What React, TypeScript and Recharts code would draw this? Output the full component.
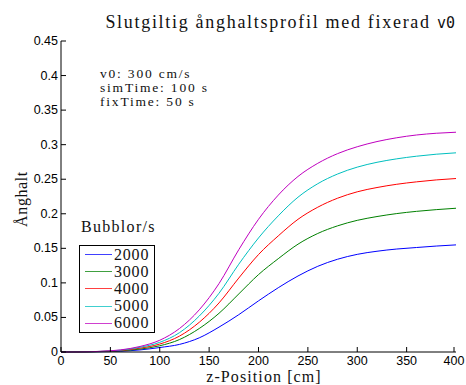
import { LineChart, Line, XAxis, YAxis, Legend } from 'recharts';

// z positions along the channel [cm]
const zPositions = [0, 20, 40, 60, 80, 100, 120, 140, 160, 180, 200, 220, 240, 260, 280, 300, 320, 340, 360, 380, 400];

// steam fraction per bubble rate (bubbles/s)
const rate2000 = [0, 0.0001, 0.0004, 0.0011, 0.003, 0.0065, 0.011, 0.0205, 0.036, 0.054, 0.074, 0.093, 0.110, 0.124, 0.1342, 0.1413, 0.1458, 0.149, 0.1512, 0.1533, 0.155];
const rate3000 = [0, 0.0001, 0.0006, 0.0017, 0.0042, 0.009, 0.018, 0.034, 0.056, 0.084, 0.112, 0.135, 0.156, 0.1715, 0.1825, 0.1905, 0.196, 0.2003, 0.2035, 0.206, 0.208];
const rate4000 = [0, 0.0001, 0.0008, 0.0022, 0.0055, 0.0115, 0.023, 0.043, 0.071, 0.107, 0.141, 0.168, 0.192, 0.2095, 0.2225, 0.2318, 0.238, 0.2427, 0.2462, 0.249, 0.251];
const rate5000 = [0, 0.0001, 0.0009, 0.0026, 0.0068, 0.014, 0.028, 0.052, 0.085, 0.127, 0.165, 0.197, 0.224, 0.2435, 0.2575, 0.2675, 0.2745, 0.2795, 0.2833, 0.2862, 0.2882];
const rate6000 = [0, 0.0001, 0.001, 0.003, 0.008, 0.017, 0.034, 0.061, 0.099, 0.148, 0.192, 0.227, 0.254, 0.273, 0.287, 0.297, 0.3045, 0.31, 0.314, 0.3165, 0.318];

const xTicks = [0, 50, 100, 150, 200, 250, 300, 350, 400];
const yTicks = [0, 0.05, 0.1, 0.15, 0.2, 0.25, 0.3, 0.35, 0.4, 0.45];
const yTickLabels = ['0', '0.05', '0.1', '0.15', '0.2', '0.25', '0.3', '0.35', '0.4', '0.45'];

const seriesNames = ['2000', '3000', '4000', '5000', '6000'];
const seriesColors = ['#0000ff', '#008000', '#ff0000', '#00bfbf', '#bf00bf'];
const seriesValues = [rate2000, rate3000, rate4000, rate5000, rate6000];

const rows = zPositions.map((z, i) => {
  const row: Record<string, number> = { z };
  seriesNames.forEach((name, s) => { row[name] = seriesValues[s][i]; });
  return row;
});

const sans = '"Liberation Sans", Arial, sans-serif';
const serif = '"Liberation Serif", "Times New Roman", serif';
const TICK = 5;

const BottomTick = ({ x, y, payload }: any) => (
  <g>
    <line x1={x} y1={y} x2={x} y2={y - TICK} stroke="#000" />
    <text x={x} y={y + 13} textAnchor="middle" fontSize={12.5} fontFamily={sans} fill="#000">{payload.value}</text>
  </g>
);

const TopTick = ({ x, y }: any) => <line x1={x} y1={y} x2={x} y2={y + TICK} stroke="#000" />;

const LeftTick = ({ x, y, payload }: any) => (
  <g>
    <line x1={x} y1={y} x2={x + TICK} y2={y} stroke="#000" />
    <text x={x - 3} y={y + 4} textAnchor="end" fontSize={12.5} fontFamily={sans} fill="#000">
      {yTickLabels[yTicks.indexOf(payload.value)] ?? payload.value}
    </text>
  </g>
);

const RightTick = ({ x, y }: any) => <line x1={x} y1={y} x2={x - TICK} y2={y} stroke="#000" />;

const LegendBox = ({ payload }: any) => (
  <div style={{ fontFamily: serif, color: '#111' }}>
    <div style={{ fontSize: 16, lineHeight: '20px', height: 20, marginBottom: 8, marginLeft: 2, letterSpacing: 1.3 }}>Bubblor/s</div>
    <div style={{ border: '1.5px solid #000', background: '#fff', width: 76, boxSizing: 'border-box', padding: '0 0 0 5px' }}>
      {(payload || []).map((p: any) => (
        <div key={p.value} style={{ display: 'flex', alignItems: 'center', height: 17.2 }}>
          <span style={{ display: 'inline-block', width: 27, height: 0, borderTop: `1.5px solid ${p.color}`, opacity: 0.75, marginRight: 2 }} />
          <span style={{ fontSize: 16, letterSpacing: 0.8 }}>{p.value}</span>
        </div>
      ))}
    </div>
  </div>
);

export default function App() {
  return (
    <div style={{ position: 'absolute', left: 0, top: 0, width: 466, height: 385, background: '#fff' }}>
      <LineChart width={466} height={385} data={rows} margin={{ top: 41, right: 10, bottom: 0, left: 0 }}>
        <XAxis dataKey="z" type="number" domain={[0, 400]} ticks={xTicks} height={33}
          stroke="#000" tickSize={0} tickMargin={0} tickLine={false} tick={<BottomTick />} />
        <XAxis xAxisId="top" dataKey="z" type="number" orientation="top" domain={[0, 400]} ticks={xTicks} height={0}
          stroke="#000" tickSize={0} tickMargin={0} tickLine={false} tick={<TopTick />} />
        <YAxis type="number" domain={[0, 0.45]} ticks={yTicks} width={61}
          stroke="#000" tickSize={0} tickMargin={0} tickLine={false} tick={<LeftTick />} />
        <YAxis yAxisId="right" orientation="right" type="number" domain={[0, 0.45]} ticks={yTicks} width={0}
          stroke="#000" tickSize={0} tickMargin={0} tickLine={false} tick={<RightTick />} />
        {seriesNames.map((name, s) => (
          <Line key={name} dataKey={name} name={name} type="monotone" stroke={seriesColors[s]}
            strokeWidth={1} dot={false} isAnimationActive={false} />
        ))}
        <Legend layout="horizontal" verticalAlign="middle" align="center" content={<LegendBox />}
          wrapperStyle={{ left: 79, top: 217, width: 'auto' }} />
      </LineChart>

      <div style={{ position: 'absolute', right: 11, top: 13, fontFamily: serif, fontSize: 18, lineHeight: '18px', letterSpacing: 1.7, whiteSpace: 'nowrap', color: '#111' }}>
        Slutgiltig ånghaltsprofil med fixerad <span style={{ fontFamily: '"DejaVu Sans Mono", monospace', fontSize: 15, letterSpacing: 0 }}>v0</span>
      </div>
      <div style={{ position: 'absolute', left: 100, top: 67, fontFamily: serif, fontSize: 13.5, lineHeight: '14px', letterSpacing: 1.8, color: '#111' }}>
        <div>v0: 300 cm/s</div>
        <div>simTime: 100 s</div>
        <div>fixTime: 50 s</div>
      </div>
      <div style={{ position: 'absolute', left: 22, top: 199, transform: 'translate(-50%, -50%) rotate(-90deg)', fontFamily: serif, fontSize: 16, lineHeight: '16px', letterSpacing: 0.6, whiteSpace: 'nowrap', color: '#111' }}>
        Ånghalt
      </div>
      <div style={{ position: 'absolute', left: 264, top: 370, transform: 'translateX(-50%)', fontFamily: serif, fontSize: 16, lineHeight: '14px', letterSpacing: 1.1, whiteSpace: 'nowrap', color: '#111' }}>
        z-Position [cm]
      </div>
    </div>
  );
}
